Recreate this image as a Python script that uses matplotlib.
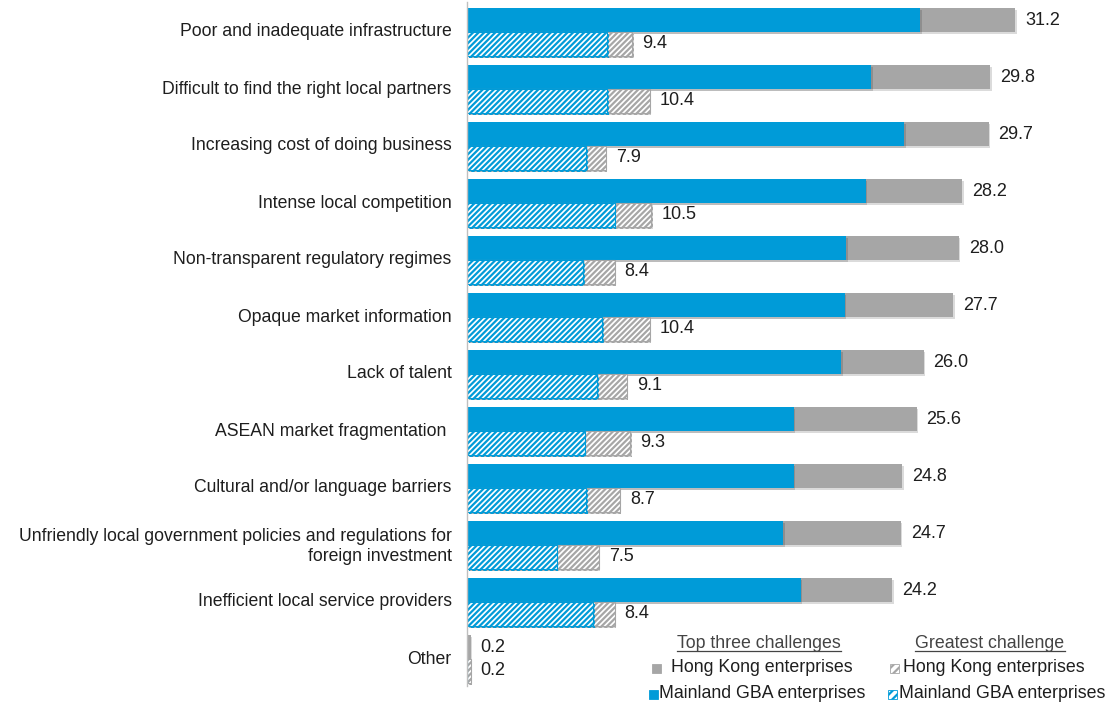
import matplotlib
matplotlib.use("Agg")
import matplotlib.pyplot as plt
import numpy as np
from matplotlib.patches import Rectangle
from matplotlib.lines import Line2D
import matplotlib.patheffects as pe

categories = [
    "Poor and inadequate infrastructure",
    "Difficult to find the right local partners",
    "Increasing cost of doing business",
    "Intense local competition",
    "Non-transparent regulatory regimes",
    "Opaque market information",
    "Lack of talent",
    "ASEAN market fragmentation ",
    "Cultural and/or language barriers",
    "Unfriendly local government policies and regulations for\nforeign investment",
    "Inefficient local service providers",
    "Other",
]
hk_top3 = [31.2, 29.8, 29.7, 28.2, 28.0, 27.7, 26.0, 25.6, 24.8, 24.7, 24.2, 0.2]
gba_top3 = [25.8, 23.0, 24.9, 22.7, 21.6, 21.5, 21.3, 18.6, 18.6, 18.0, 19.0, 0.0]
hk_greatest = [9.4, 10.4, 7.9, 10.5, 8.4, 10.4, 9.1, 9.3, 8.7, 7.5, 8.4, 0.2]
gba_greatest = [8.0, 8.0, 6.8, 8.4, 6.6, 7.7, 7.4, 6.7, 6.8, 5.1, 7.2, 0.0]

GREY = "#A6A6A6"
BLUE = "#009BD8"
TXT = "#1E1E1E"

plt.rcParams["font.family"] = ["Liberation Sans", "DejaVu Sans"]
plt.rcParams["hatch.linewidth"] = 1.6

W, H = 1115, 708
fig = plt.figure(figsize=(W / 100, H / 100), dpi=100)
ax_left, ax_right = 467, 1100
ax_top, ax_bot = 1.5, 685.5
ax = fig.add_axes([ax_left / W, 1 - ax_bot / H, (ax_right - ax_left) / W, (ax_bot - ax_top) / H])

scale = 17.56  # px per unit
ax.set_xlim(0, (ax_right - ax_left) / scale)
n = len(categories)
ax.set_ylim(n - 0.5, -0.5)

y = np.arange(n)
h = 0.42
off_top = -0.175
off_bot = 0.245
shadow = [pe.SimplePatchShadow(offset=(1.2, -1.5), shadow_rgbFace="#000000", alpha=0.14), pe.Normal()]

b1 = ax.barh(y + off_top, hk_top3, height=h, color=GREY, linewidth=0)
b2 = ax.barh(y + off_top, gba_top3, height=h, color=BLUE, linewidth=0)
b3 = ax.barh(y + off_bot, hk_greatest, height=h, facecolor="white", edgecolor=GREY, hatch="//////", linewidth=0.8)
b4 = ax.barh(y + off_bot, gba_greatest, height=h, facecolor="white", edgecolor=BLUE, hatch="//////", linewidth=0.8)
for bars in (b1, b2, b3, b4):
    for p in bars:
        p.set_path_effects(shadow)

fs = 12.7
vfs = 13
for yi, v in zip(y, hk_top3):
    ax.annotate(f"{v:.1f}", (v, yi + off_top), xytext=(10, 0), textcoords="offset pixels",
                va="center", ha="left", fontsize=vfs, color=TXT)
for yi, v in zip(y, hk_greatest):
    ax.annotate(f"{v:.1f}", (v, yi + off_bot), xytext=(10, 0), textcoords="offset pixels",
                va="center", ha="left", fontsize=vfs, color=TXT)

ax.set_yticks(y)
ax.set_yticklabels(categories, fontsize=fs, color=TXT, ha="right")
ax.tick_params(axis="y", length=0, pad=11)
ax.set_xticks([])
for s in ("top", "right", "bottom"):
    ax.spines[s].set_visible(False)
ax.spines["left"].set_color("#BFBFBF")
ax.spines["left"].set_linewidth(1.0)

# Legend (custom)
def fx(px):
    return px / W

def fy(py):
    return 1 - py / H

lfs = 12.8
t1 = fig.text(fx(759), fy(643), "Top three challenges", ha="center", va="center", fontsize=lfs, color="#444444")
t2 = fig.text(fx(990), fy(643), "Greatest challenge", ha="center", va="center", fontsize=lfs, color="#444444")
fig.text(fx(671), fy(668), "Hong Kong enterprises", ha="left", va="center", fontsize=lfs, color=TXT)
fig.text(fx(659), fy(694), "Mainland GBA enterprises", ha="left", va="center", fontsize=lfs, color=TXT)
fig.text(fx(903), fy(668), "Hong Kong enterprises", ha="left", va="center", fontsize=lfs, color=TXT)
fig.text(fx(899), fy(694), "Mainland GBA enterprises", ha="left", va="center", fontsize=lfs, color=TXT)

sq = 9
def marker(cx, cy, face, edge, hatch=None):
    r = Rectangle((fx(cx - sq / 2), fy(cy + sq / 2)), sq / W, sq / H, transform=fig.transFigure,
                  facecolor=face, edgecolor=edge, hatch=hatch, linewidth=0.6)
    fig.add_artist(r)

marker(656, 668, GREY, GREY)
marker(653, 694, BLUE, BLUE)
marker(894, 668, "white", GREY, "////")
marker(892, 694, "white", BLUE, "////")

fig.canvas.draw()
r = fig.canvas.get_renderer()
for t in (t1, t2):
    bb = t.get_window_extent(renderer=r)
    yline = bb.y0 + 0.5
    fig.add_artist(Line2D([bb.x0 / W, bb.x1 / W], [yline / H, yline / H], transform=fig.transFigure,
                          color="#444444", linewidth=0.9))

fig.savefig("out.png", dpi=100)
